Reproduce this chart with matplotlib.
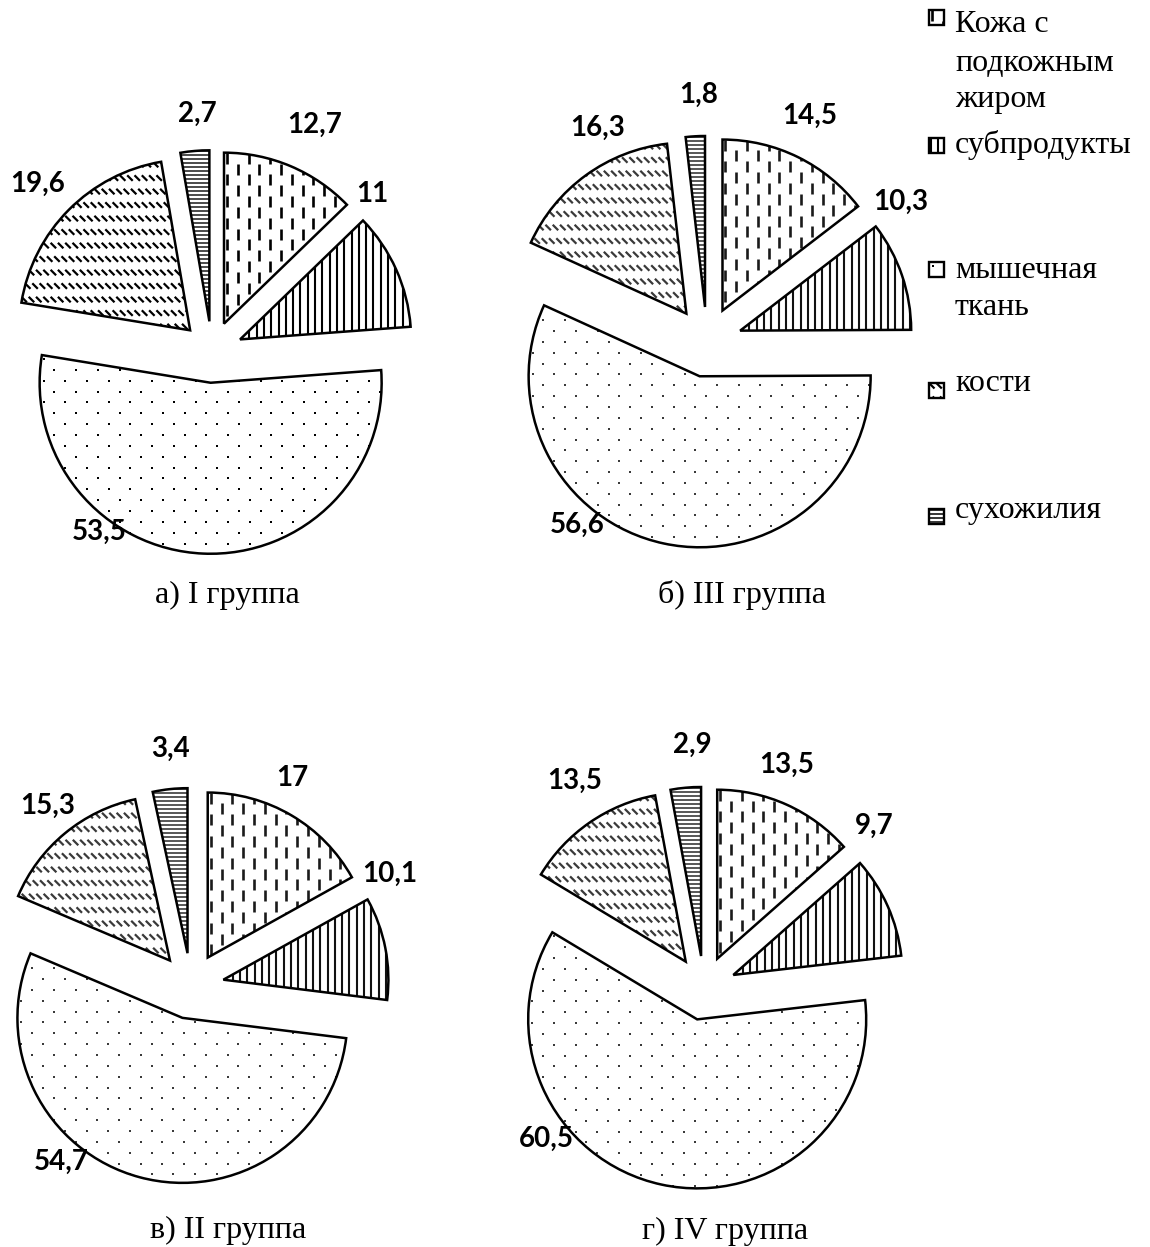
import numpy as np
import matplotlib
matplotlib.use("Agg")
import matplotlib.pyplot as plt
from matplotlib.collections import LineCollection
from matplotlib.patches import Rectangle

# ---- data -------------------------------------------------------------
components = ["Кожа с\nподкожным\nжиром", "субпродукты", "мышечная\nткань",
              "кости", "сухожилия"]
group_titles = ["а) I группа", "б) III группа", "в) II группа", "г) IV группа"]
group_I = [12.7, 11.0, 53.5, 19.6, 2.7]
group_III = [14.5, 10.3, 56.6, 16.3, 1.8]
group_II = [17.0, 10.1, 54.7, 15.3, 3.4]
group_IV = [13.5, 9.7, 60.5, 13.5, 2.9]
groups = [group_I, group_III, group_II, group_IV]

# ---- layout (figure pixels, origin top-left) --------------------------
W, H = 1150, 1247
pie_centers = [(212, 352), (707, 342), (191, 986), (704, 988)]
pie_radii = [171, 171, 165, 169]
pie_explode = [0.18, 0.205, 0.2, 0.19]
label_pos = [
    [(315, 143), (372, 212), (99, 550), (38, 202), (197, 132)],
    [(810, 134), (901, 220), (577, 543), (598, 146), (699, 113)],
    [(292, 796), (390, 892), (61, 1180), (48, 824), (171, 767)],
    [(787, 783), (874, 844), (546, 1157), (575, 799), (692, 763)],
]
title_pos = [(227, 603), (742, 603), (228, 1238), (725, 1239)]

patterns = ["vdash", "vline", "dots", "bdiag", "hline"]
dark = {"vdash": "black", "vline": "black", "dots": "black", "bdiag": "black", "hline": "#1a1a1a"}
soft = {"vdash": "#1a1a1a", "vline": "#111111", "dots": "#3a3a3a", "bdiag": "#3a3a3a", "hline": "#2a2a2a"}
pattern_ink = [dark, soft, soft, soft]

NUM_FONT = dict(family=["Lato", "DejaVu Sans"], weight="bold", size=20)
SERIF = dict(family=["Liberation Serif", "DejaVu Serif"], size=23)


def fill_pattern(ax, patch, kind, scale, ydown, color):
    """Fill a patch with a pixel-sized line/dot pattern, clipped to the patch."""
    path = patch.get_patch_transform().transform_path(patch.get_path())
    ext = path.get_extents()
    w = (ext.x1 - ext.x0) / scale
    h = (ext.y1 - ext.y0) / scale
    ox = ext.x0
    oy = ext.y0 if ydown else ext.y1

    def conv(ux, uy):
        ux = np.asarray(ux, float)
        uy = np.asarray(uy, float)
        return ox + ux * scale, (oy + uy * scale) if ydown else (oy - uy * scale)

    segs = []
    if kind == "vdash":
        nx, ny = int(w / 10.8) + 2, int(h / 21.7) + 2
        for i in range(nx):
            for j in range(-1, ny):
                x = 3 + i * 10.8
                y = j * 21.7 + (i % 2) * 10.85
                segs.append(((x, y), (x, y + 11)))
        lw = 1.9
    elif kind == "vline":
        for i in range(int(w / 7.3) + 2):
            x = 2 + i * 7.3
            segs.append(((x, -2), (x, h + 2)))
        lw = 1.5
    elif kind == "hline":
        for j in range(int(h / 4.0) + 2):
            y = 1 + j * 4.0
            segs.append(((-2, y), (w + 2, y)))
        lw = 1.1
    elif kind == "bdiag":
        for j in range(-1, int(h / 13.5) + 2):
            for i in range(-1, int(w / 7.3) + 2):
                x = i * 7.3 + (j % 2) * 3.6
                y = j * 13.5
                segs.append(((x, y), (x + 5.5, y + 5.5)))
        lw = 1.6
    if kind == "dots":
        xs, ys = [], []
        for j in range(int(h / 10.85) + 2):
            for i in range(int(w / 21.7) + 2):
                xs.append(4 + i * 21.7 + (j % 2) * 10.85)
                ys.append(4 + j * 10.85)
        X, Y = conv(xs, ys)
        sc = ax.scatter(X, Y, s=4.3, marker="s", color=color, linewidths=0,
                        zorder=2)
        sc.set_clip_path(patch)
        return
    data_segs = []
    for (x0, y0), (x1, y1) in segs:
        a = conv([x0, x1], [y0, y1])
        data_segs.append(list(zip(a[0], a[1])))
    lc = LineCollection(data_segs, colors=color, linewidths=lw, zorder=2,
                        capstyle="butt")
    ax.add_collection(lc)
    lc.set_clip_path(patch)


fig = plt.figure(figsize=(W / 100, H / 100), dpi=100)
fig.patch.set_facecolor("white")

# ---- the four pies ----------------------------------------------------
half = 1.6
for g, vals in enumerate(groups):
    cx, cy = pie_centers[g]
    R = pie_radii[g]
    ax = fig.add_axes([(cx - half * R) / W, (H - cy - half * R) / H,
                       2 * half * R / W, 2 * half * R / H])
    wedges, _ = ax.pie(vals, startangle=90, counterclock=False,
                       explode=[pie_explode[g]] * len(vals), radius=1.0,
                       wedgeprops=dict(facecolor="none", edgecolor="black",
                                       linewidth=1.8, zorder=3,
                                       joinstyle="miter"))
    for k, wdg in enumerate(wedges):
        fill_pattern(ax, wdg, patterns[k], 1.0 / R, False,
                     pattern_ink[g][patterns[k]])
    for k, v in enumerate(vals):
        px, py = label_pos[g][k]
        ax.text((px - cx) / R, (cy - py + 10) / R, f"{v:g}".replace(".", ","),
                ha="center", va="baseline", zorder=5, **NUM_FONT)
    ax.set_xlim(-half, half)
    ax.set_ylim(-half, half)
    ax.set_aspect("equal", adjustable="box")
    ax.axis("off")

# ---- captions and legend (pixel coordinates) ---------------------------
ov = fig.add_axes([0, 0, 1, 1])
ov.set_xlim(0, W)
ov.set_ylim(H, 0)
ov.axis("off")
ov.patch.set_alpha(0)

for g, title in enumerate(group_titles):
    tx, ty = title_pos[g]
    ov.text(tx, ty, title, ha="center", va="baseline", **SERIF)

legend_box_tops = [10, 138, 262, 383, 509]
legend_baselines = [[32, 71, 107], [153], [278, 315], [391], [518]]
for k, name in enumerate(components):
    box = Rectangle((929, legend_box_tops[k]), 15, 15, facecolor="none",
                    edgecolor="black", linewidth=1.7, zorder=3)
    ov.add_patch(box)
    fill_pattern(ov, box, patterns[k], 1.0, True, "black")
    for line, by in zip(name.split("\n"), legend_baselines[k]):
        ov.text(955, by, line, ha="left", va="baseline", **SERIF)

fig.savefig("out.png", dpi=100, facecolor="white")
